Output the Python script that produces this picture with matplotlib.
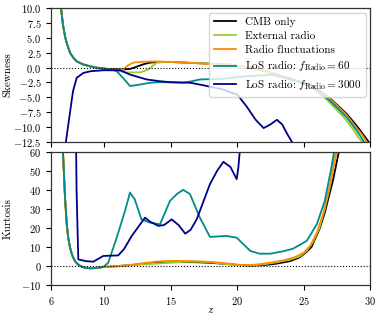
import numpy as np
import matplotlib.pyplot as plt

plt.rcParams.update({
    "font.family": "serif",
    "font.serif": ["cmr10", "DejaVu Serif"],
    "mathtext.fontset": "cm",
    "axes.formatter.use_mathtext": True,
    "font.size": 7.5,
    "axes.edgecolor": "0.2",
    "axes.linewidth": 0.9,
})

# early common part (all models agree at z < 10)
z_early = [6.55, 6.75, 6.9, 7.05, 7.2, 7.43, 7.7, 7.93, 8.4, 8.93, 9.4, 9.93]
sk_early = [12.5, 10.0, 7.2, 5.25, 4.0, 2.5, 1.6, 1.06, 0.55, 0.22, 0.0, -0.16]
z_early_k = [6.85, 6.93, 7.05, 7.18, 7.3, 7.43, 7.6, 7.8, 8.0, 8.2, 8.5, 8.93, 9.4, 9.93]
ku_early = [66, 55, 36, 22, 14.5, 9.6, 5.5, 2.6, 1.0, 0.0, -0.8, -1.2, -1.0, -0.5]

# skewness
z_cmb_s = [10.5, 11, 11.5, 12, 12.5, 13, 13.5, 14, 15, 16, 17, 18, 19, 19.5, 21, 22, 23.2,
           24.5, 25.7, 27, 28.25, 29, 29.5, 29.9, 30.0]
sk_cmb = [-0.25, -0.3, -0.3, -0.2, 0.2, 0.6, 0.85, 0.95, 0.95, 0.85, 0.75, 0.65, 0.55, 0.5,
          0.0, -0.5, -1.3, -2.2, -3.1, -5.2, -7.8, -9.8, -11.3, -12.5, -12.9]
z_ext_s = [10.5, 11, 11.7, 12.7, 13.3, 13.7, 13.95, 14.5, 15, 16, 17, 18, 19, 19.5, 21, 22,
           23.2, 24.5, 25.6, 26.8, 28.0, 28.7, 29.1, 29.4, 29.5]
sk_ext = [-0.3, -0.55, -0.8, -0.8, -0.35, 0.4, 0.8, 0.95, 0.95, 0.85, 0.75, 0.65, 0.55, 0.5,
          0.0, -0.5, -1.35, -2.3, -3.3, -5.5, -8.3, -10.3, -11.7, -12.5, -12.9]
z_rad_s = [10.5, 10.9, 11.4, 11.8, 12.2, 13, 14, 15, 16.5, 18, 19.5, 21, 22, 23.2, 24.5,
           25.7, 27, 28.2, 28.9, 29.4, 29.75, 29.85]
sk_rad = [-0.3, -0.45, -0.3, 0.4, 0.85, 1.0, 1.05, 0.95, 0.8, 0.6, 0.45, -0.1, -0.6, -1.35,
          -2.25, -3.2, -5.3, -7.9, -9.9, -11.3, -12.5, -12.9]
z_los60_s = [10.5, 10.94, 11.4, 11.94, 12.3, 12.7, 13.45, 14.2, 15.9, 16.6, 17.2, 18.9, 20.7,
             22.7, 24.5, 25.7, 27, 28.25, 29, 29.55, 29.65]
sk_los60 = [-0.3, -0.6, -1.7, -3.1, -3.0, -2.85, -2.55, -2.45, -2.55, -2.3, -2.0, -1.9, -1.45,
            -1.2, -2.3, -3.3, -5.6, -8.4, -10.6, -12.5, -12.9]
z_los3k_s = [6.95, 7.13, 7.4, 7.65, 7.93, 8.43, 9.0, 9.93, 11.2, 11.94, 13.2, 14.2, 14.95, 16.46,
             17.5, 18.96, 19.5, 20.0, 20.7, 21.4, 22.0, 22.5, 23.0, 23.4, 23.8, 24.2]
sk_los3k = [-16, -12.3, -8.0, -4.0, -1.72, -0.9, -0.6, -0.45, -0.45, -1.17, -2.0, -2.3, -2.45,
            -2.55, -3.0, -3.7, -4.2, -4.5, -6.5, -8.8, -10.2, -9.6, -8.8, -9.6, -11.3, -12.8]

# kurtosis
z_cmb_k = [10, 11, 12, 13, 14, 15, 16, 17, 18, 19, 20, 21, 22, 23, 24, 24.7, 25.24, 25.6,
           26.24, 26.6, 27, 27.25, 27.6, 27.8]
ku_cmb = [-0.5, 0, 0.5, 1.2, 1.7, 2.0, 2.1, 2.0, 1.7, 1.2, 0.6, 0.2, 0.5, 1.3, 2.6, 4.5, 7.5,
          10, 20, 28, 39, 46, 58, 64]
z_ext_k = [10, 11, 12, 13, 14, 15, 16, 17, 18, 19, 20, 21, 22, 23, 24, 24.7, 25.24, 25.7,
           26.2, 26.6, 27, 27.4, 27.6]
ku_ext = [-0.5, 0.0, 0.5, 0.9, 1.3, 1.8, 2.2, 2.3, 2.0, 1.2, 0.4, 0.2, 0.9, 2.0, 3.4, 5, 8,
          12.5, 20, 30, 42, 60, 66]
z_rad_k = [10, 11, 12, 13, 14, 15, 16, 17, 18, 19, 20, 20.7, 21.5, 22.5, 23.5, 24.3, 25, 25.5,
           26, 26.5, 27, 27.5, 27.7]
ku_rad = [-0.5, -0.2, 0.6, 1.6, 2.4, 2.7, 2.7, 2.5, 2.2, 1.6, 0.8, 0.4, 0.8, 1.8, 3.0, 4.5, 7,
          10.5, 17.5, 28, 43, 60, 66]
z_los60_k = [10.3, 10.94, 11.57, 11.94, 12.3, 12.8, 13.45, 14.2, 14.95, 15.5, 15.95, 16.46,
             17.2, 17.96, 19.2, 19.97, 21, 21.7, 22.5, 23.5, 24.2, 25.24, 26, 26.6, 27.1, 27.3,
             27.4]
ku_los60 = [1.7, 14.9, 29, 38.6, 35, 24.5, 22.8, 21.9, 34.2, 38, 40, 37.7, 25.4, 15.3, 15.8,
            14.9, 7.9, 6.5, 6.5, 7.8, 9.1, 13.2, 21.9, 34.2, 51.7, 60, 66]
z_los3k_k = [7.88, 7.92, 8.05, 8.6, 9.18, 9.93, 11.06, 11.5, 12.07, 13.07, 13.45, 14.07, 14.5,
             15.08, 15.6, 16.1, 16.5, 16.96, 17.96, 18.5, 18.97, 19.5, 19.97, 20.1, 20.25]
ku_los3k = [66, 40, 3.5, 2.6, 2.3, 5.3, 5.6, 9, 15.8, 25.4, 23.3, 21.1, 21.5, 24.5, 21.5, 17,
            19, 24.5, 43, 50, 54.7, 52, 45.6, 52, 64]

colors = {"cmb": "black", "ext": "yellowgreen", "rad": "darkorange",
          "los60": "darkcyan", "los3k": "darkblue"}
labels = {"cmb": "CMB only", "ext": "External radio", "rad": "Radio fluctuations",
          "los60": r"LoS radio: $f_{\rm Radio}=60$",
          "los3k": r"LoS radio: $f_{\rm Radio}=3000$"}

skew = {"cmb": (z_cmb_s, sk_cmb), "ext": (z_ext_s, sk_ext), "rad": (z_rad_s, sk_rad),
        "los60": (z_los60_s, sk_los60)}
kurt = {"cmb": (z_cmb_k, ku_cmb), "ext": (z_ext_k, ku_ext), "rad": (z_rad_k, ku_rad),
        "los60": (z_los60_k, ku_los60)}

fig, (ax1, ax2) = plt.subplots(2, 1, figsize=(3.81, 3.2), dpi=100, sharex=True)
fig.subplots_adjust(left=0.134, right=0.971, top=0.974, bottom=0.109, hspace=0.075)

for key in ["cmb", "ext", "rad", "los60"]:
    z, s = skew[key]
    ax1.plot(z_early + z, sk_early + s, color=colors[key], lw=1.3, label=labels[key])
    z, k = kurt[key]
    ax2.plot(z_early_k + z, ku_early + k, color=colors[key], lw=1.3)

ax1.plot(z_los3k_s, sk_los3k, color=colors["los3k"], lw=1.3, label=labels["los3k"])
ax2.plot(z_los3k_k, ku_los3k, color=colors["los3k"], lw=1.3)

for ax in (ax1, ax2):
    ax.axhline(0, color="k", ls=":", lw=0.8)
    ax.set_xlim(6, 30)
    ax.tick_params(labelsize=7.5)

ax1.set_ylim(-12.5, 10)
ax1.set_yticks(np.arange(-12.5, 10.1, 2.5))
ax1.set_ylabel("Skewness", fontsize=8)
ax1.legend(loc="upper right", fontsize=8, handlelength=2.0, borderaxespad=0.4,
           labelspacing=0.35)

ax2.set_ylim(-10, 60)
ax2.set_yticks(np.arange(-10, 61, 10))
ax2.set_xticks([6, 10, 15, 20, 25, 30])
ax2.set_ylabel("Kurtosis", fontsize=8)
ax2.set_xlabel("$z$", fontsize=8)

ax1.yaxis.set_label_coords(-0.122, 0.5)
ax2.yaxis.set_label_coords(-0.122, 0.5)
ax2.xaxis.set_label_coords(0.5, -0.15)

plt.savefig("out.png", dpi=100)
